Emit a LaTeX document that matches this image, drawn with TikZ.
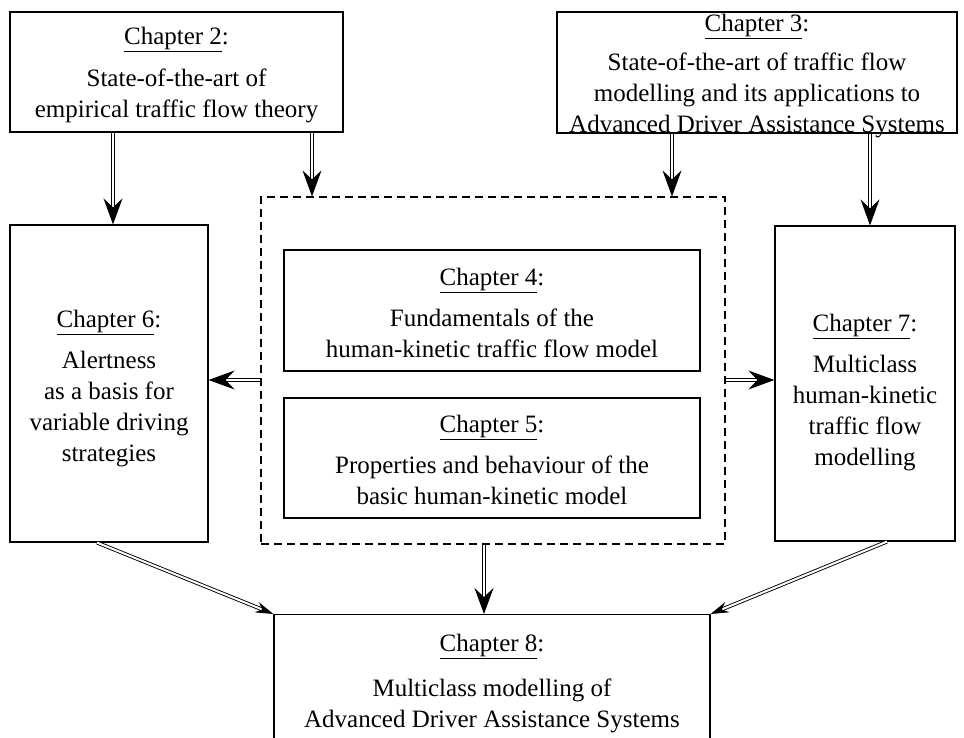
\documentclass[tikz,border=0pt]{standalone}
\usepackage{fontspec}
\setmainfont{Liberation Serif}
\usetikzlibrary{arrows.meta,calc}
\begin{document}
\begin{tikzpicture}[x=1pt,y=-1pt,
  box/.style={draw, line width=1.2pt, inner sep=0pt},
  txt/.style={inner sep=0pt, align=center, font=\fontsize{25}{31}\selectfont},
  grpbox/.style={draw, line width=1.2pt, dash pattern=on 8pt off 5pt, inner sep=0pt},
  dbl/.style={double=white, double distance=2pt, line width=0.9pt,
    -{Stealth[length=26pt,width=19pt,inset=9pt]}},
  dbld/.style={double=white, double distance=2pt, line width=0.9pt,
    -{Stealth[length=18pt,width=11pt,inset=6pt]}}
]
\useasboundingbox (0,0) rectangle (964,738);
% boxes
\node[box, minimum width=333pt, minimum height=120pt] (ch2) at (176.5,72) {};
\node[box, minimum width=400pt, minimum height=121pt] (ch3) at (757,72.5) {};
\node[box, minimum width=198pt, minimum height=317pt] (ch6) at (109,383.5) {};
\node[box, minimum width=180pt, minimum height=315pt] (ch7) at (865,383.5) {};
\node[grpbox, minimum width=464pt, minimum height=347pt] (grp) at (493,370.5) {};
\node[box, minimum width=416pt, minimum height=121pt] (ch4) at (492,310.5) {};
\node[box, minimum width=416pt, minimum height=120pt] (ch5) at (492,458) {};
\node[box, minimum width=436pt, minimum height=146pt, anchor=north] (ch8) at (492,614) {};
% texts
\node[txt] (ch2t) at ([yshift=-3pt]ch2.center)
  {\underline{Chapter 2}:\\[11pt]State-of-the-art of\\empirical traffic flow theory};
\node[txt] (ch3t) at ([yshift=-4pt]ch3.center)
  {\underline{Chapter 3}:\\[8pt]State-of-the-art of traffic flow\\modelling and its applications to\\Advanced Driver Assistance Systems};
\node[txt] (ch6t) at ([yshift=-5pt]ch6.center)
  {\underline{Chapter 6}:\\[10pt]Alertness\\as a basis for\\variable driving\\strategies};
\node[txt] (ch7t) at ([yshift=-9pt]ch7.center)
  {\underline{Chapter 7}:\\[10pt]Multiclass\\human-kinetic\\traffic flow\\modelling};
\node[txt] (ch4t) at ([yshift=-2pt]ch4.center)
  {\underline{Chapter 4}:\\[10pt]Fundamentals of the\\human-kinetic traffic flow model};
\node[txt] (ch5t) at ([yshift=-2pt]ch5.center)
  {\underline{Chapter 5}:\\[10pt]Properties and behaviour of the\\basic human-kinetic model};
\node[txt, anchor=north] (ch8t) at ([yshift=-20pt]ch8.north)
  {\underline{Chapter 8}:\\[14pt]Multiclass modelling of\\Advanced Driver Assistance Systems};
% connectors
\draw[dbl] (ch2.south -| 113,0) -- (ch6.north -| 113,0);
\draw[dbl] (ch2.south -| 312,0) -- (grp.north -| 312,0);
\draw[dbl] (ch3.south -| 672,0) -- (grp.north -| 672,0);
\draw[dbl] (ch3.south -| 870,0) -- (ch7.north -| 870,0);
\draw[dbl] (grp.west |- 0,380) -- (ch6.east |- 0,380);
\draw[dbl] (grp.east |- 0,380) -- (ch7.west |- 0,380);
\draw[dbl] (grp.south -| 484,0) -- (ch8.north -| 484,0);
\draw[dbld] (ch6.south -| 97,0) -- (ch8.north west);
\draw[dbld] (ch7.south -| 887,0) -- (ch8.north east);
\end{tikzpicture}
\end{document}
